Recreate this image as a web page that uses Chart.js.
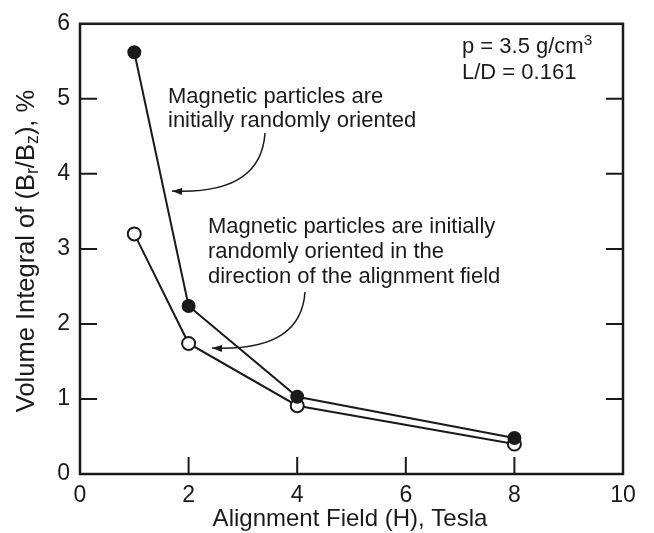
<!DOCTYPE html>
<html>
<head>
<meta charset="utf-8">
<script src="https://cdn.jsdelivr.net/npm/chart.js@4.4.0/dist/chart.umd.min.js"></script>
<style>
  html, body { margin: 0; padding: 0; background: #fff; }
  #wrap { width: 654px; height: 533px; }
</style>
</head>
<body>
<div id="wrap"><canvas id="chart"></canvas></div>
<script>
// alignment field, Tesla
const fieldTesla = [1, 2, 4, 8];
// volume integral of Br/Bz, %
const randomOriented = [5.62, 2.24, 1.03, 0.48];
const alignedOriented = [3.2, 1.74, 0.91, 0.40];
const xTicks = [0, 2, 4, 6, 8, 10];
const yTicks = [0, 1, 2, 3, 4, 5, 6];

const FONT = '"Liberation Sans", Arial, Helvetica, sans-serif';
const INK = '#1a1a1a';

function toPoints(xs, ys) {
  return xs.map((x, i) => ({ x: x, y: ys[i] }));
}

function arrow(ctx, x0, y0, cx, cy, x1, y1) {
  ctx.beginPath();
  ctx.moveTo(x0, y0);
  ctx.quadraticCurveTo(cx, cy, x1, y1);
  ctx.stroke();
  // head follows the end tangent
  const a = Math.atan2(y1 - cy, x1 - cx);
  const len = 10, half = 3.5;
  ctx.beginPath();
  ctx.moveTo(x1, y1);
  ctx.lineTo(x1 - len * Math.cos(a) + half * Math.sin(a), y1 - len * Math.sin(a) - half * Math.cos(a));
  ctx.lineTo(x1 - len * Math.cos(a) - half * Math.sin(a), y1 - len * Math.sin(a) + half * Math.cos(a));
  ctx.closePath();
  ctx.fill();
}

// text with subscript/superscript pieces: [text, 'sub'|'sup'|null]
function richWidth(ctx, parts, size) {
  let w = 0;
  parts.forEach(p => {
    ctx.font = (p[1] ? size * 0.7 : size) + 'px ' + FONT;
    w += ctx.measureText(p[0]).width;
  });
  return w;
}
function richText(ctx, parts, x, y, size) {
  let cx = x;
  parts.forEach(p => {
    const s = p[1] ? size * 0.7 : size;
    ctx.font = s + 'px ' + FONT;
    let dy = 0;
    if (p[1] === 'sub') dy = size * 0.25;
    if (p[1] === 'sup') dy = -size * 0.35;
    ctx.fillText(p[0], cx, y + dy);
    cx += ctx.measureText(p[0]).width;
  });
}

const decor = {
  id: 'decor',
  afterDraw(chart) {
    const ctx = chart.ctx;
    const area = chart.chartArea;
    const xs = chart.scales.x, ys = chart.scales.y;
    ctx.save();
    ctx.strokeStyle = INK;
    ctx.fillStyle = INK;

    // frame
    ctx.lineWidth = 2.5;
    ctx.strokeRect(area.left, area.top, area.right - area.left, area.bottom - area.top);

    // inward ticks
    const tl = 17;
    ctx.lineWidth = 2;
    ctx.beginPath();
    xTicks.slice(1, -1).forEach(v => {
      const px = xs.getPixelForValue(v);
      ctx.moveTo(px, area.bottom);
      ctx.lineTo(px, area.bottom - tl);
    });
    yTicks.slice(1, -1).forEach(v => {
      const py = ys.getPixelForValue(v);
      ctx.moveTo(area.left, py);
      ctx.lineTo(area.left + tl, py);
      ctx.moveTo(area.right, py);
      ctx.lineTo(area.right - tl, py);
    });
    ctx.stroke();

    // axis titles
    ctx.textBaseline = 'middle';
    ctx.textAlign = 'center';
    ctx.font = '24px ' + FONT;
    ctx.fillText('Alignment Field (H), Tesla', 350, 519);

    const yTitle = [['Volume Integral of (B', null], ['r', 'sub'], ['/B', null], ['z', 'sub'], ['), %', null]];
    ctx.save();
    ctx.translate(27, 251);
    ctx.rotate(-Math.PI / 2);
    ctx.textAlign = 'left';
    const tw = richWidth(ctx, yTitle, 25.5);
    richText(ctx, yTitle, -tw / 2, 0, 25.5);
    ctx.restore();

    // notes
    ctx.textAlign = 'left';
    ctx.textBaseline = 'alphabetic';
    ctx.font = '22px ' + FONT;
    ctx.fillText('Magnetic particles are', 168, 103);
    ctx.fillText('initially randomly oriented', 168, 127);
    ctx.fillText('Magnetic particles are initially', 208, 233);
    ctx.fillText('randomly oriented in the', 208, 258);
    ctx.fillText('direction of the alignment field', 208, 283);

    richText(ctx, [['p = 3.5 g/cm', null], ['3', 'sup']], 462, 53, 22);
    ctx.font = '22px ' + FONT;
    ctx.fillText('L/D = 0.161', 462, 79);

    // leader arrows
    ctx.lineWidth = 1.5;
    arrow(ctx, 265, 133, 261, 195, 172, 191);
    arrow(ctx, 305, 292, 301, 352, 212, 348);

    ctx.restore();
  }
};

new Chart(document.getElementById('chart'), {
  type: 'line',
  data: {
    datasets: [
      {
        label: 'Randomly oriented',
        data: toPoints(fieldTesla, randomOriented),
        borderColor: INK,
        borderWidth: 2,
        pointBackgroundColor: INK,
        pointBorderColor: INK,
        pointBorderWidth: 2,
        pointRadius: 6,
        tension: 0
      },
      {
        label: 'Oriented along field',
        data: toPoints(fieldTesla, alignedOriented),
        borderColor: INK,
        borderWidth: 2,
        pointBackgroundColor: '#fff',
        pointBorderColor: INK,
        pointBorderWidth: 2,
        pointRadius: 6.5,
        tension: 0
      }
    ]
  },
  options: {
    responsive: true,
    maintainAspectRatio: false,
    animation: false,
    layout: { padding: { top: 13, right: 31, left: 0, bottom: 0 } },
    plugins: { legend: { display: false }, tooltip: { enabled: false } },
    scales: {
      x: {
        type: 'linear',
        min: 0, max: 10,
        afterBuildTicks: s => { s.ticks = xTicks.map(v => ({ value: v })); },
        afterFit: s => { s.height = 59; },
        grid: { display: false, drawTicks: false },
        border: { display: false },
        ticks: { color: INK, padding: 8, maxRotation: 0, font: { size: 23, family: FONT } }
      },
      y: {
        min: 0, max: 6,
        afterBuildTicks: s => { s.ticks = yTicks.map(v => ({ value: v })); },
        afterFit: s => { s.width = 80; },
        grid: { display: false, drawTicks: false },
        border: { display: false },
        ticks: { color: INK, padding: 10, font: { size: 23, family: FONT } }
      }
    }
  },
  plugins: [decor]
});
</script>
</body>
</html>
